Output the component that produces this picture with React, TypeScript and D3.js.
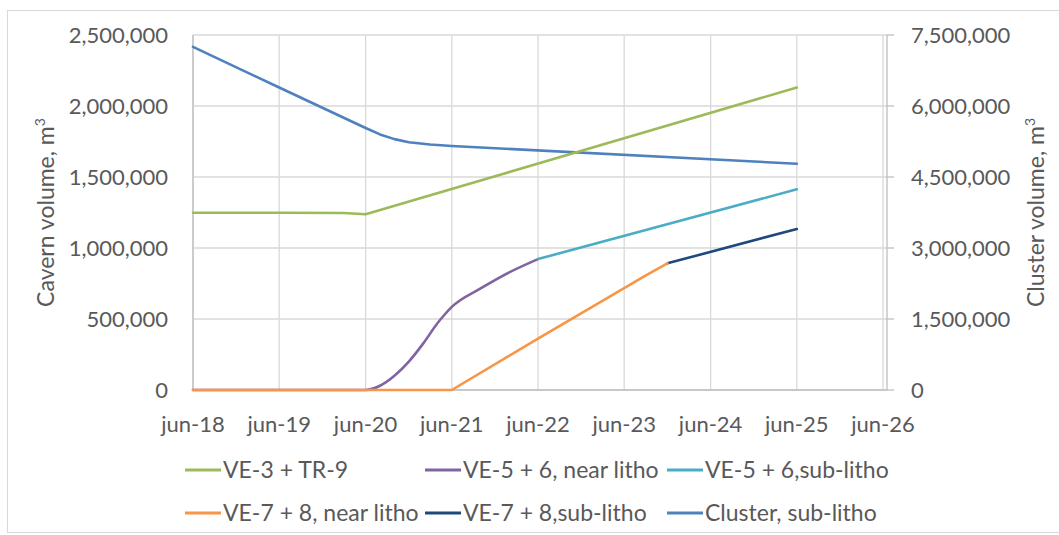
import React from "react";
import * as d3 from "d3";

type Pt = [string, number];

const xTickLabels = ["jun-18", "jun-19", "jun-20", "jun-21", "jun-22", "jun-23", "jun-24", "jun-25", "jun-26"];
const leftTicks = [0, 500000, 1000000, 1500000, 2000000, 2500000];
const rightTicks = [0, 1500000, 3000000, 4500000, 6000000, 7500000];

const ve3tr9: Pt[] = [
  ["2018-06-01", 1248000],
  ["2019-06-01", 1248000],
  ["2020-03-01", 1246000],
  ["2020-06-01", 1238000],
  ["2025-06-01", 2130000],
];
const ve56near: Pt[] = [
  ["2018-06-01", 0],
  ["2020-06-01", 0],
  ["2020-08-01", 30000],
  ["2020-10-01", 100000],
  ["2020-12-01", 200000],
  ["2021-02-01", 330000],
  ["2021-04-01", 470000],
  ["2021-05-01", 530000],
  ["2021-06-01", 585000],
  ["2021-10-01", 715000],
  ["2022-02-01", 830000],
  ["2022-06-01", 922000],
];
const ve56sub: Pt[] = [
  ["2022-06-01", 922000],
  ["2025-06-01", 1413000],
];
const ve78near: Pt[] = [
  ["2018-06-01", 0],
  ["2021-06-01", 0],
  ["2022-06-01", 362000],
  ["2023-09-01", 808000],
  ["2023-12-01", 892000],
];
const ve78sub: Pt[] = [
  ["2023-12-01", 892000],
  ["2025-06-01", 1134000],
];
const cluster: Pt[] = [
  ["2018-06-01", 7250000],
  ["2019-06-01", 6390000],
  ["2020-06-01", 5535000],
  ["2020-08-01", 5400000],
  ["2020-10-01", 5300000],
  ["2020-12-01", 5235000],
  ["2021-03-01", 5185000],
  ["2021-06-01", 5155000],
  ["2025-06-01", 4780000],
];

const seriesNames = [
  "VE-3 + TR-9",
  "VE-5 + 6, near litho",
  "VE-5 + 6,sub-litho",
  "VE-7 + 8, near litho",
  "VE-7 + 8,sub-litho",
  "Cluster, sub-litho",
];
const seriesColors = ["#9BBB59", "#8064A2", "#4BACC6", "#F79646", "#1F497D", "#4F81BD"];
const seriesData = [ve3tr9, ve56near, ve56sub, ve78near, ve78sub, cluster];
const seriesAxis = ["left", "left", "left", "left", "left", "right"];
const seriesSmooth = [false, true, false, false, false, false];
const drawOrder = [5, 0, 1, 2, 4, 3];

export default function App() {
  const W = 1059, H = 535;
  const left = 193, right = 883, top = 35, bottom = 390;
  const axisRightX = 887;
  const x = d3.scaleTime()
    .domain([new Date("2018-06-01"), new Date("2026-06-01")])
    .range([left, right]);
  const yL = d3.scaleLinear().domain([0, 2500000]).range([bottom, top]);
  const yR = d3.scaleLinear().domain([0, 7500000]).range([bottom, top]);
  const fmt = d3.format(",");
  const xTickDates = xTickLabels.map((_, i) => new Date(`${2018 + i}-06-01`));
  const font = "Lato, 'Open Sans', sans-serif";
  const txt = "#595959";

  const lineFor = (i: number) => {
    const ys = seriesAxis[i] === "left" ? yL : yR;
    return d3.line<Pt>()
      .x((d) => x(new Date(d[0])))
      .y((d) => ys(d[1]))
      .curve(seriesSmooth[i] ? d3.curveMonotoneX : d3.curveLinear)(seriesData[i]) || "";
  };

  const legendCols = [185, 425, 667];
  const legendRows = [470, 513];

  return (
    <svg width={W} height={H} style={{ position: "absolute", left: 0, top: 0, background: "#fff" }}>
      <rect x={7.5} y={10.5} width={1060} height={522} fill="#fff" stroke="#d9d9d9" strokeWidth={1} />
      {leftTicks.map((t) => (
        <line key={"h" + t} x1={left} x2={axisRightX} y1={yL(t)} y2={yL(t)} stroke="#d9d9d9" strokeWidth={1.3} />
      ))}
      {xTickDates.map((d, i) => (
        <line key={"v" + i} x1={x(d)} x2={x(d)} y1={top} y2={bottom} stroke="#d9d9d9" strokeWidth={1.3} />
      ))}
      <line x1={left} x2={left} y1={top} y2={bottom} stroke="#bfbfbf" strokeWidth={1.3} />
      <line x1={left} x2={axisRightX} y1={bottom} y2={bottom} stroke="#bfbfbf" strokeWidth={1.3} />
      <line x1={axisRightX} x2={axisRightX} y1={top} y2={bottom} stroke="#bfbfbf" strokeWidth={1.3} />
      {rightTicks.map((t) => (
        <line key={"rt" + t} x1={axisRightX} x2={axisRightX + 7} y1={yR(t)} y2={yR(t)} stroke="#bfbfbf" strokeWidth={1.3} />
      ))}
      {leftTicks.map((t) => (
        <text key={"lt" + t} x={168} y={yL(t)} dy="0.35em" textAnchor="end" fontFamily={font} fontSize={22} fill={txt}>
          {fmt(t)}
        </text>
      ))}
      {rightTicks.map((t) => (
        <text key={"rl" + t} x={911} y={yR(t)} dy="0.35em" textAnchor="start" fontFamily={font} fontSize={22} fill={txt}>
          {fmt(t)}
        </text>
      ))}
      {xTickDates.map((d, i) => (
        <text key={"xl" + i} x={x(d)} y={424} dy="0.35em" textAnchor="middle" fontFamily={font} fontSize={22} fill={txt}>
          {xTickLabels[i]}
        </text>
      ))}
      <text transform={`translate(46,${(top + bottom) / 2}) rotate(-90)`} dy="0.35em" textAnchor="middle" fontFamily={font} fontSize={23} fill={txt}>
        Cavern volume, m<tspan fontSize={14} dy="-0.65em">3</tspan>
      </text>
      <text transform={`translate(1036,${(top + bottom) / 2}) rotate(-90)`} dy="0.35em" textAnchor="middle" fontFamily={font} fontSize={23} fill={txt}>
        Cluster volume, m<tspan fontSize={14} dy="-0.65em">3</tspan>
      </text>
      {drawOrder.map((i) => (
        <path key={"s" + i} d={lineFor(i)} fill="none" stroke={seriesColors[i]} strokeWidth={2.6} strokeLinejoin="round" strokeLinecap="round" />
      ))}
      {seriesNames.map((name, i) => {
        const cx = legendCols[i % 3];
        const cy = legendRows[Math.floor(i / 3)];
        return (
          <g key={"lg" + i}>
            <line x1={cx} x2={cx + 36} y1={cy} y2={cy} stroke={seriesColors[i]} strokeWidth={3} />
            <text x={cx + 38} y={cy} dy="0.35em" fontFamily={font} fontSize={23} fill={txt}>
              {name}
            </text>
          </g>
        );
      })}
    </svg>
  );
}
